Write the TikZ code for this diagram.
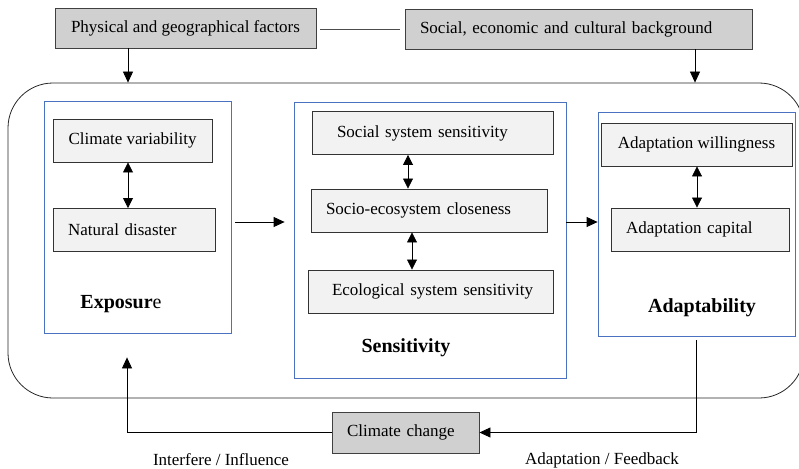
\documentclass[tikz,border=0pt]{standalone}
\usepackage{fontspec}
\setmainfont{Liberation Serif}
\usetikzlibrary{arrows.meta}
\definecolor{boxgray}{HTML}{D0D0D0}
\definecolor{innergray}{HTML}{F2F2F2}
\definecolor{groupblue}{HTML}{4A72C0}
\begin{document}
\begin{tikzpicture}[x=1pt,y=-1pt,
  factor/.style={draw=black!75,fill=boxgray,line width=0.9pt,minimum height=40pt,inner sep=0pt,font=\fontsize{17}{20}\selectfont},
  item/.style={draw=black!80,fill=innergray,line width=0.9pt,minimum height=43pt,inner ysep=0pt,inner xsep=15pt,align=left,font=\fontsize{17}{20}\selectfont},
  group/.style={draw=groupblue,line width=0.8pt,inner sep=0pt},
  outer/.style={draw=black!85,line width=0.8pt,rounded corners=45pt,inner sep=0pt},
  title/.style={font=\fontsize{20}{24}\selectfont\bfseries},
  lbl/.style={font=\fontsize{17}{20}\selectfont},
  arr/.style={-{Triangle[length=11pt,width=10pt]},line width=0.8pt},
  dbl/.style={{Triangle[length=10pt,width=10pt]}-{Triangle[length=10pt,width=10pt]},line width=0.8pt}]
\useasboundingbox (0,0) rectangle (799,468);
\node[outer,minimum width=796pt,minimum height=315pt] (frame) at (406,240.5) {};
\node[factor,minimum width=261pt] (phys) at (185.5,28) {Physical and geographical factors};
\node[factor,text width=317pt,align=left,inner xsep=15pt] (socbg) at (578.5,29) {Social, economic and cultural background};
\node[group,minimum width=187pt,minimum height=232pt] (expo) at (137.5,217) {};
\node[group,minimum width=272pt,minimum height=276pt] (sens) at (430,240) {};
\node[group,minimum width=197pt,minimum height=224pt] (adapt) at (696.5,224) {};
\node[item,minimum width=159pt] (climvar) at (132.5,140.5) {Climate variability};
\node[item,text width=132pt] (natdis) at (134,230) {Natural disaster};
\node[item,text width=211pt] (socsys) at (432.5,133) {\hspace*{10pt}Social system sensitivity};
\node[item,text width=206pt] (closeness) at (429,210.5) {Socio-ecosystem closeness};
\node[item,text width=215pt] (ecosys) at (430.5,291.5) {\hspace*{9pt}Ecological system sensitivity};
\node[item,minimum width=191pt] (willing) at (696.5,144.5) {Adaptation willingness};
\node[item,text width=148pt] (capital) at (700,229.5) {Adaptation capital};
\node[factor,text width=117pt,align=left,inner xsep=15pt,minimum height=41pt] (climchg) at (405.5,432.5) {Climate change};
\node[title] (expotitle) at (121,304) {Exposur\textmd{e}};
\node[title] (senstitle) at (406,348) {Sensitivity};
\node[title] (adapttitle) at (702,308) {Adaptability};
\node[lbl] (influence) at (221,460) {Interfere / Influence};
\node[lbl] (feedback) at (602,460) {Adaptation / Feedback};
\draw[black!70,line width=0.8pt,shorten <=4pt,shorten >=5pt] (phys.east |- 0,29) -- (socbg.west |- 0,29);
\draw[arr] (phys.south -| 128,0) -- (frame.north -| 128,0);
\draw[arr] (socbg.south -| 695,0) -- (frame.north -| 695,0);
\draw[dbl] (climvar.south -| 128,0) -- (natdis.north -| 128,0);
\draw[dbl] (socsys.south -| 408,0) -- (closeness.north -| 408,0);
\draw[dbl] (closeness.south -| 412,0) -- (ecosys.north -| 412,0);
\draw[dbl] (willing.south -| 697,0) -- (capital.north -| 697,0);
\draw[arr,shorten <=4pt,shorten >=9pt] (expo.east |- 0,222) -- (sens.west |- 0,222);
\draw[arr] (sens.east |- 0,222) -- (adapt.west |- 0,222);
\draw[arr,shorten <=4pt] (adapt.south -| 696,0) |- (climchg.east);
\draw[arr,shorten >=24pt] (climchg.west) -| (expo.south -| 127,0);
\end{tikzpicture}
\end{document}
